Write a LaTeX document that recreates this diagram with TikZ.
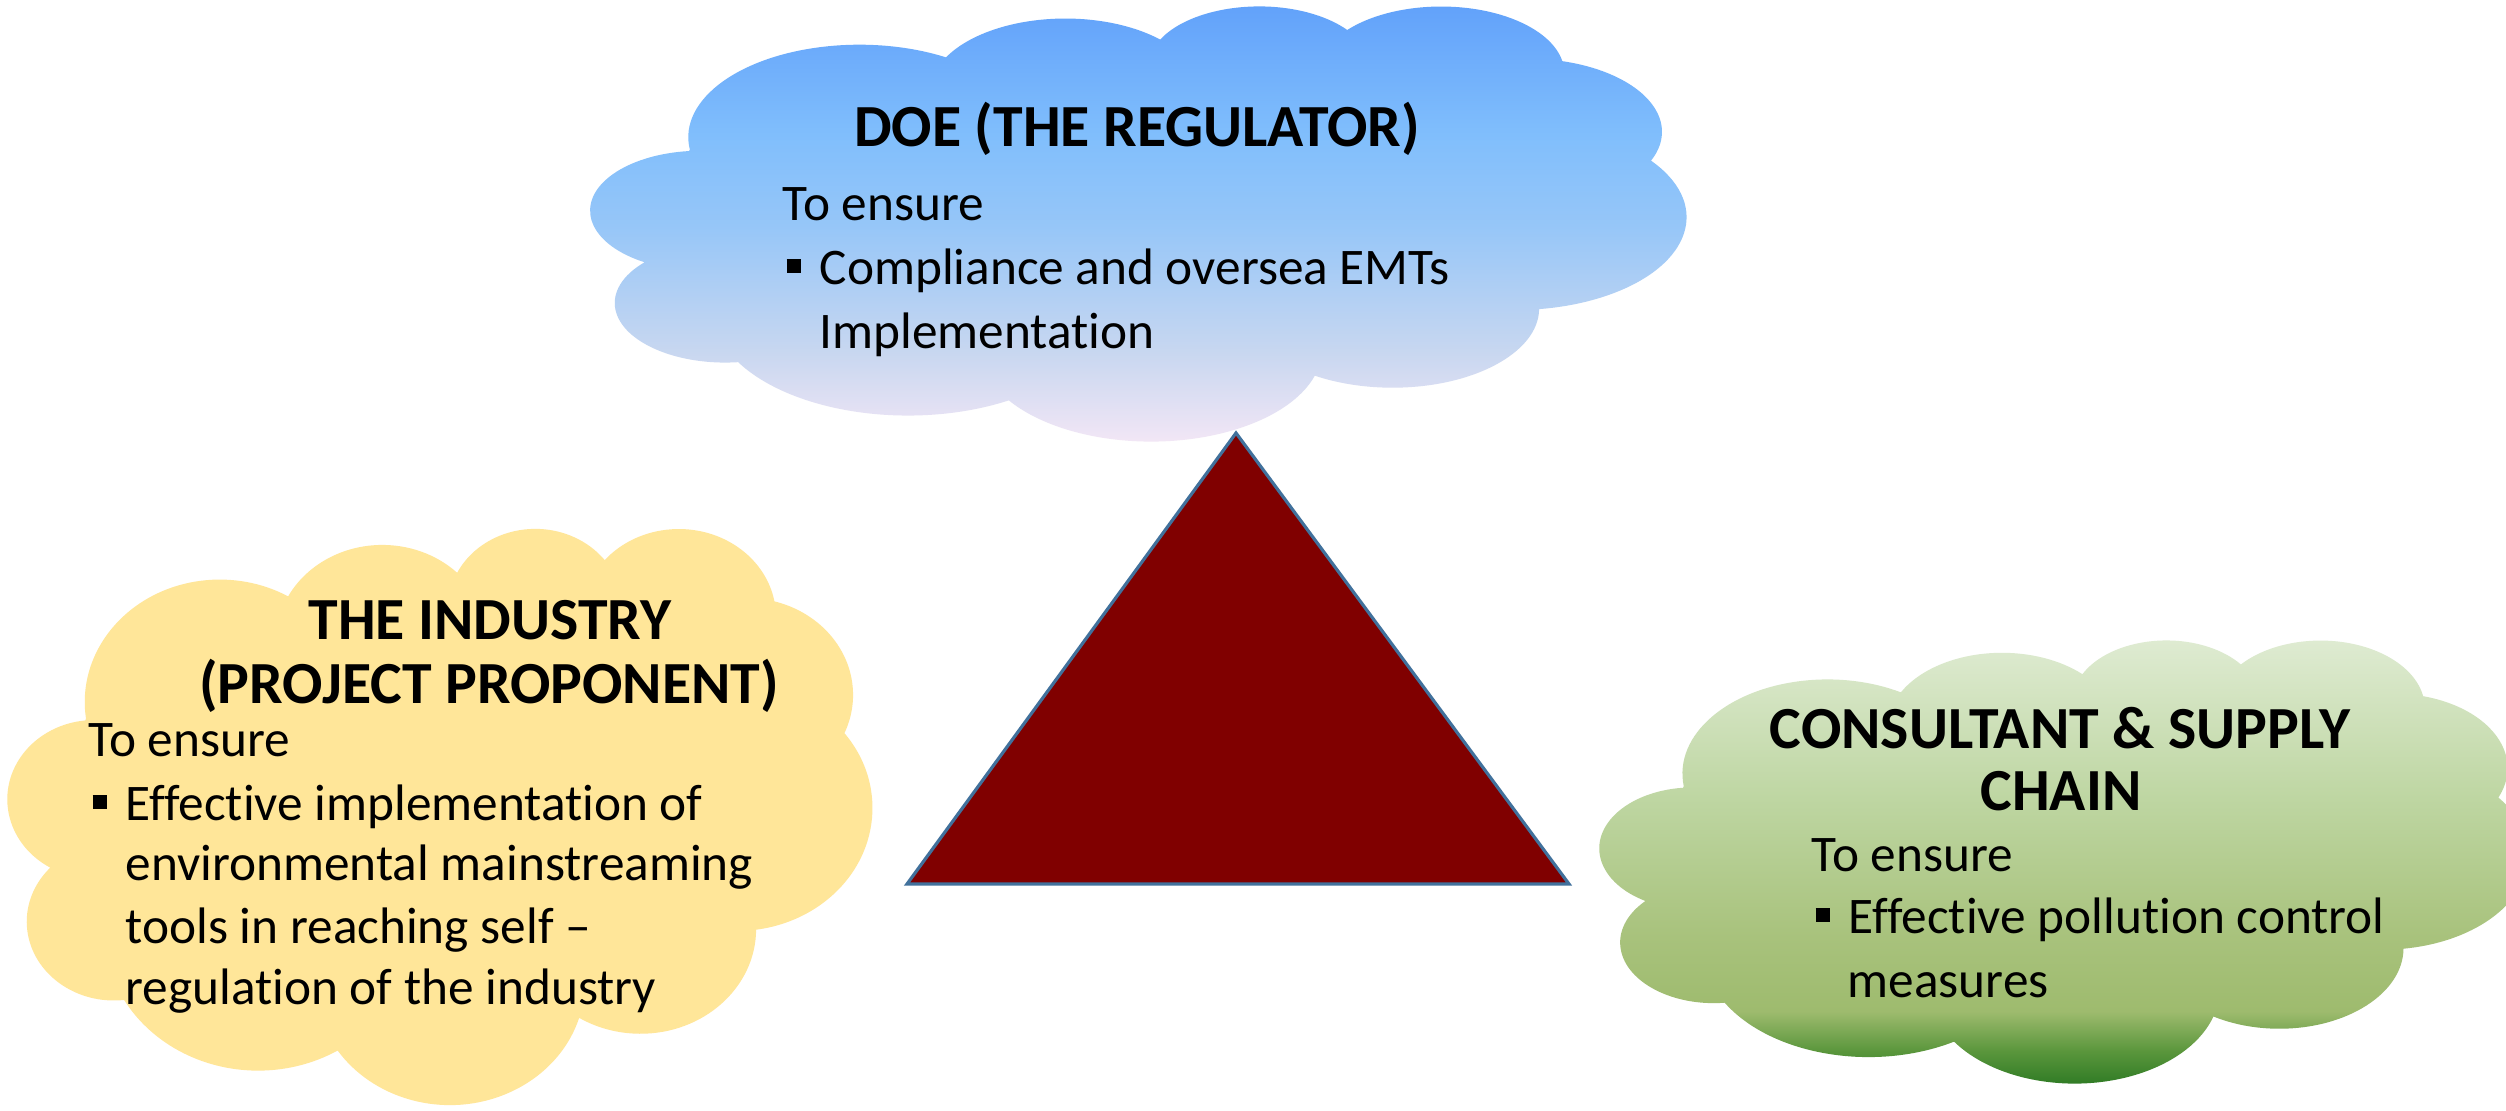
\documentclass[tikz,border=0pt]{standalone}
\usepackage{fontspec}
\setmainfont{Carlito}[Ligatures=NoCommon]
\definecolor{dT}{RGB}{96,160,250}
\definecolor{dA}{RGB}{128,190,252}
\definecolor{dB}{RGB}{150,198,248}
\definecolor{dC}{RGB}{200,215,240}
\definecolor{dD}{RGB}{247,232,246}
\definecolor{gT}{RGB}{224,236,212}
\definecolor{gA}{RGB}{190,214,162}
\definecolor{gB}{RGB}{168,194,124}
\definecolor{gC}{RGB}{158,187,110}
\definecolor{gD}{RGB}{90,150,60}
\definecolor{gE}{RGB}{35,115,30}
\definecolor{yel}{RGB}{255,230,153}
\definecolor{maroonfill}{RGB}{128,0,0}
\definecolor{triedge}{RGB}{65,113,156}
\pgfdeclareverticalshading{doeshade}{100bp}{color(0bp)=(dD); color(25bp)=(dD); color(36bp)=(dC); color(50bp)=(dB); color(60bp)=(dA); color(75bp)=(dT); color(100bp)=(dT)}
\pgfdeclareverticalshading{greenshade}{100bp}{color(0bp)=(gE); color(25bp)=(gE); color(29.7bp)=(gD); color(34bp)=(gC); color(42bp)=(gB); color(57bp)=(gA); color(75bp)=(gT); color(100bp)=(gT)}
\newcommand\cloudpath{(3.900,-14.370)
 arc[start angle=187.75,end angle=59.63,x radius=6.753,y radius=9.190]
 arc[start angle=152.03,end angle=45.45,x radius=5.333,y radius=7.267]
 arc[start angle=153.49,end angle=37.31,x radius=4.365,y radius=5.945]
 arc[start angle=139.72,end angle=10.21,x radius=4.857,y radius=6.595]
 arc[start angle=74.77,end angle=-23.21,x radius=5.333,y radius=7.273]
 arc[start angle=37.52,end angle=-81.87,x radius=6.775,y radius=9.220]
 arc[start angle=-0.46,end angle=-121.98,x radius=5.785,y radius=7.867]
 arc[start angle=-16.85,end angle=-146.22,x radius=6.752,y radius=9.215]
 arc[start angle=-58.98,end angle=-150.19,x radius=7.720,y radius=10.543]
 arc[start angle=-83.30,end angle=-223.11,x radius=4.360,y radius=5.918]
 arc[start angle=-120.36,end angle=-264.11,x radius=4.345,y radius=5.945]
 -- cycle}
\newcommand\bul{\makebox[0.37cm][l]{\hspace{0.04cm}\rule[0.115cm]{0.145cm}{0.14cm}}}
\tikzset{
  hd/.style={font=\fontsize{17pt}{20pt}\selectfont\bfseries, inner sep=0pt, anchor=base},
  bd/.style={font=\fontsize{14.6pt}{18pt}\selectfont, inner sep=0pt, anchor=base west},
}
\begin{document}
\begin{tikzpicture}
\useasboundingbox (0,0) rectangle (25.06,11.10);
\clip (0,0) rectangle (25.06,11.10);
\fill[white] (0,0) rectangle (25.06,11.10);
% top cloud
\begin{scope}[shift={(5.91,11.05)},xscale=10.95/43.2,yscale=4.35/43.2]
  \shade[shading=doeshade] \cloudpath;
\end{scope}
% left cloud
\begin{scope}[shift={(0.08,5.83)},xscale=8.64/43.2,yscale=5.76/43.2]
  \fill[yel] \cloudpath;
\end{scope}
% right cloud
\begin{scope}[shift={(16.00,4.71)},xscale=9.28/43.2,yscale=4.43/43.2]
  \shade[shading=greenshade] \cloudpath;
\end{scope}
% triangle
\coordinate (apex) at (12.36,6.77);
\coordinate (bl) at (9.07,2.26);
\coordinate (br) at (15.69,2.26);
\draw[fill=maroonfill, draw=triedge, line width=0.9pt, line join=miter] (apex) -- (br) -- (bl) -- cycle;
% top cloud text
\node[hd] (doeT) at (11.37,9.64) {DOE (THE REGULATOR)};
\node[bd] (doe1) at (7.82,8.90) {To ensure};
\node[bd] (doe2) at (7.82,8.26) {\bul Compliance and oversea EMTs};
\node[bd] (doe3) at (8.19,7.62) {Implementation};
% left cloud text
\node[hd] (indT1) at (4.90,4.71) {THE INDUSTRY};
\node[hd] (indT2) at (4.89,4.07) {(PROJECT PROPONENT)};
\node[bd] (ind1) at (0.88,3.54) {To ensure};
\node[bd] (ind2) at (0.88,2.90) {\bul Effective implementation of};
\node[bd] (ind3) at (1.25,2.30) {environmental mainstreaming};
\node[bd] (ind4) at (1.25,1.67) {tools in reaching self –};
\node[bd] (ind5) at (1.25,1.06) {regulation of the industry};
% right cloud text
\node[hd] (conT1) at (20.60,3.62) {CONSULTANT \& SUPPLY};
\node[hd] (conT2) at (20.61,3.00) {CHAIN};
\node[bd] (con1) at (18.11,2.39) {To ensure};
\node[bd] (con2) at (18.11,1.77) {\bul Effective pollution control};
\node[bd] (con3) at (18.47,1.13) {measures};
\end{tikzpicture}
\end{document}
